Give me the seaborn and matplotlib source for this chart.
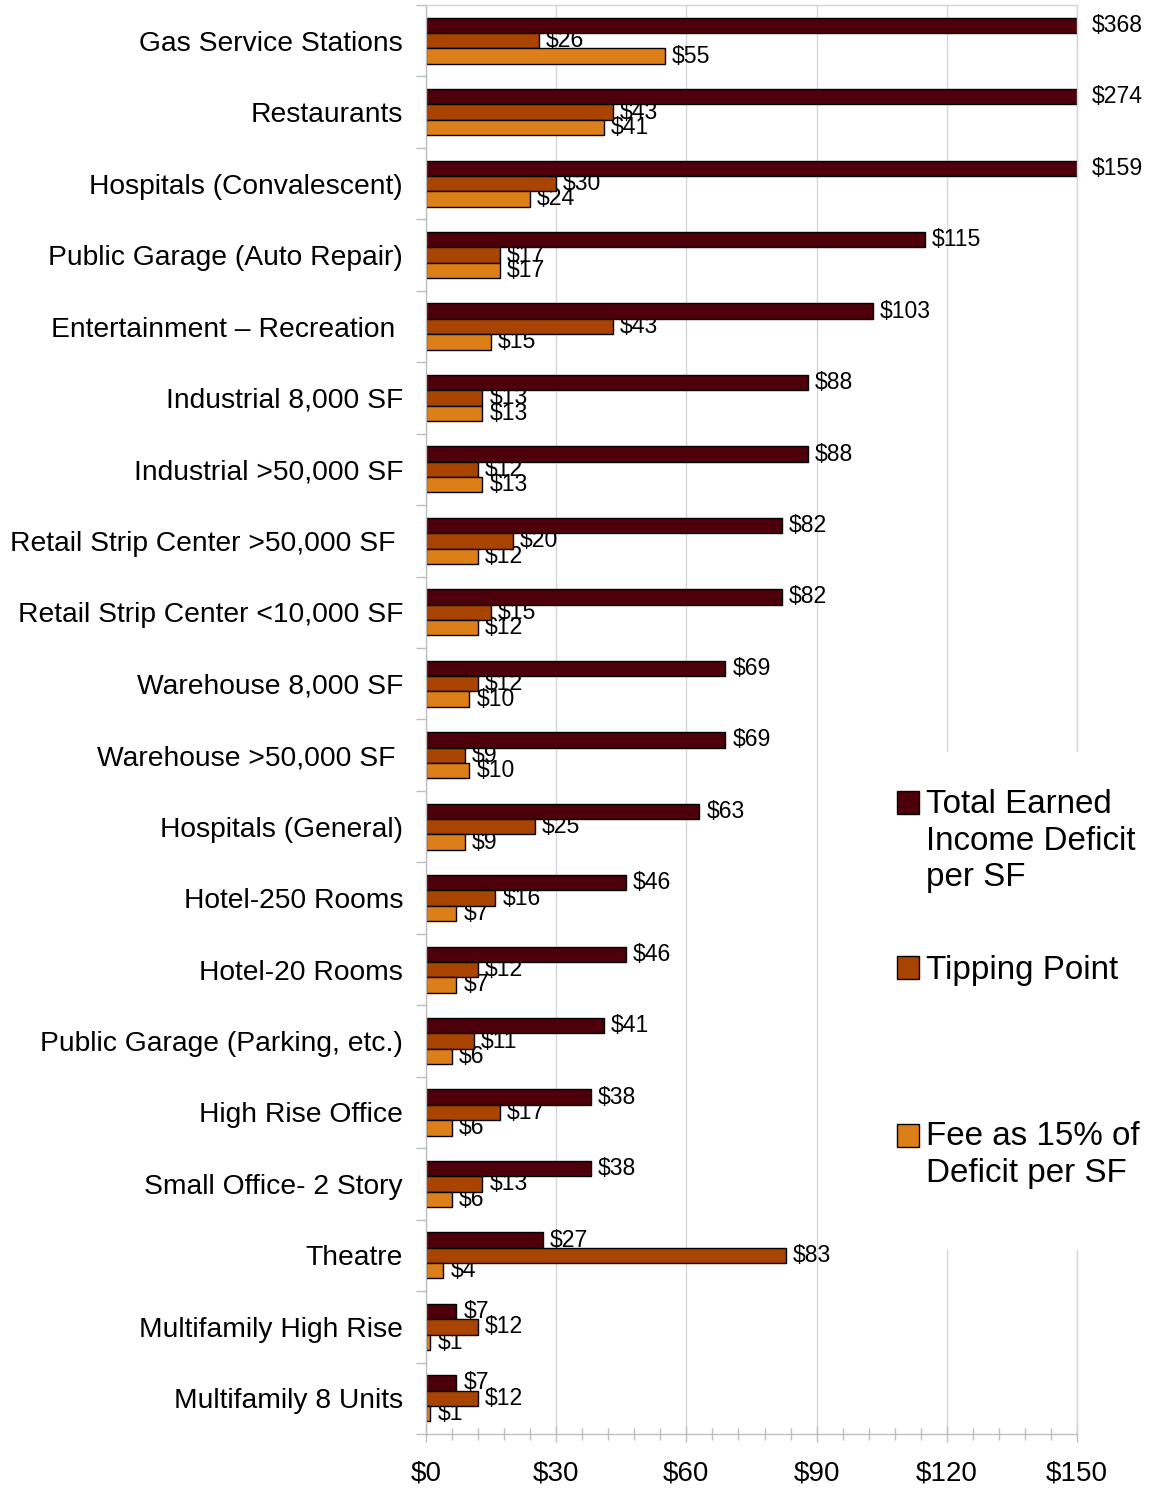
import numpy as np
import pandas as pd
import matplotlib
matplotlib.use("Agg")
import matplotlib.pyplot as plt
from matplotlib.patches import Rectangle, Patch
from matplotlib.legend_handler import HandlerPatch
from matplotlib.ticker import FuncFormatter, MultipleLocator
import seaborn as sns

# ---- data -------------------------------------------------------------
categories = [
    "Gas Service Stations",
    "Restaurants",
    "Hospitals (Convalescent)",
    "Public Garage (Auto Repair)",
    "Entertainment \u2013 Recreation ",
    "Industrial 8,000 SF",
    "Industrial >50,000 SF",
    "Retail Strip Center >50,000 SF ",
    "Retail Strip Center <10,000 SF",
    "Warehouse 8,000 SF",
    "Warehouse >50,000 SF ",
    "Hospitals (General)",
    "Hotel-250 Rooms",
    "Hotel-20 Rooms",
    "Public Garage (Parking, etc.)",
    "High Rise Office",
    "Small Office- 2 Story",
    "Theatre",
    "Multifamily High Rise",
    "Multifamily 8 Units",
]
total_deficit = [368, 274, 159, 115, 103, 88, 88, 82, 82, 69, 69, 63, 46, 46, 41, 38, 38, 27, 7, 7]
tipping_point = [26, 43, 30, 17, 43, 13, 12, 20, 15, 12, 9, 25, 16, 12, 11, 17, 13, 83, 12, 12]
fee_15pct = [55, 41, 24, 17, 15, 13, 13, 12, 12, 10, 10, 9, 7, 7, 6, 6, 6, 4, 1, 1]

series_names = [
    "Total Earned\nIncome Deficit\nper SF",
    "Tipping Point",
    "Fee as 15% of\nDeficit per SF",
]
series_colors = ["#4D000A", "#A84300", "#DC7F18"]
x_ticks = [0, 30, 60, 90, 120, 150]
x_max = 150

df = pd.DataFrame({
    "category": categories * 3,
    "value": total_deficit + tipping_point + fee_15pct,
    "series": np.repeat(series_names, len(categories)),
})

# ---- style ------------------------------------------------------------
sns.set_theme(style="white")
plt.rcParams["font.family"] = ["Liberation Sans", "DejaVu Sans"]
plt.rcParams["text.color"] = "black"

W, H = 1149, 1489
fig = plt.figure(figsize=(W / 100, H / 100), dpi=100)
ax = fig.add_axes([426 / W, 1 - 1434 / H, (1077 - 426) / W, (1434 - 5) / H])

sns.barplot(
    data=df, y="category", x="value", hue="series", orient="h",
    palette=series_colors, width=0.645, edgecolor="black", linewidth=1.0,
    saturation=1, legend=False, ax=ax, zorder=2,
)

ax.set_xlim(0, x_max)
ax.set_ylim(len(categories) - 0.5, -0.5)
ax.set_xlabel("")
ax.set_ylabel("")

# gridlines / spines
grid_col = "#D4D4D4"
spine_col = "#BEBEBE"
ax.set_axisbelow(True)
ax.xaxis.grid(True, which="major", color=grid_col, linewidth=0.9)
ax.yaxis.grid(False)
for side, sp in ax.spines.items():
    sp.set_visible(True)
    sp.set_color(spine_col if side in ("left", "bottom") else grid_col)
    sp.set_linewidth(1.0)

# x ticks
ax.set_xticks(x_ticks)
ax.xaxis.set_minor_locator(MultipleLocator(6))
ax.xaxis.set_major_formatter(FuncFormatter(lambda v, p: f"${v:.0f}"))
ax.tick_params(axis="x", which="major", direction="inout", length=12, width=1.0,
               color=spine_col, labelsize=20, pad=13, bottom=True)
ax.tick_params(axis="x", which="minor", direction="inout", length=8, width=1.0,
               color=spine_col, bottom=True)

# y ticks: labels at categories, marks between categories
ax.set_yticks(np.arange(len(categories)))
ax.set_yticklabels(categories)
ax.set_yticks(np.arange(-0.5, len(categories), 1.0), minor=True)
ax.tick_params(axis="y", which="major", length=0, labelsize=20.3, pad=16.5, left=True)
ax.tick_params(axis="y", which="minor", direction="out", length=7.5, width=1.0,
               color=spine_col, left=True)
for t in ax.get_xticklabels() + ax.get_yticklabels():
    t.set_color("black")

# value labels at bar ends (bars beyond the axis stop at its edge)
for container, vals in zip(ax.containers, [total_deficit, tipping_point, fee_15pct]):
    for patch, v in zip(container.patches, vals):
        yc = patch.get_y() + patch.get_height() / 2
        clipped = v > x_max
        ax.annotate(
            f"${v}", xy=(min(v, x_max), yc),
            xytext=(10.8 if clipped else 5, 0), textcoords="offset points",
            ha="left", va="center", fontsize=16.6, color="black",
            annotation_clip=False, zorder=1.5,
        )

# legend area
fig.add_artist(Rectangle((885 / W, 1 - 1250 / H), (W - 885) / W, (1250 - 752) / H,
                         transform=fig.transFigure, facecolor="white",
                         edgecolor="none", zorder=1))


def square_handle(shift_pt):
    def make(legend, orig_handle, xdescent, ydescent, width, height, fontsize):
        return Rectangle((-xdescent, -ydescent + shift_pt), width, height)
    return make


leg_fs = 23.9
legend_layout = [
    (series_names[0], series_colors[0], 1 - 841 / H, 28.1),
    (series_names[1], series_colors[1], 1 - 970 / H, -0.5),
    (series_names[2], series_colors[2], 1 - 1155 / H, 14.4),
]
for name, col, yc, shift in legend_layout:
    handle = Patch(facecolor=col, edgecolor="black", linewidth=1.0)
    leg = fig.legend(
        [handle], [name], loc="center left", bbox_to_anchor=(897 / W, yc),
        bbox_transform=fig.transFigure, frameon=False, fontsize=leg_fs,
        handlelength=0.66, handleheight=0.66, handletextpad=0.2,
        borderpad=0, borderaxespad=0,
        handler_map={Patch: HandlerPatch(patch_func=square_handle(shift))},
    )
    leg.set_zorder(2)
    for t in leg.get_texts():
        t.set_linespacing(1.22)
        t.set_color("black")

fig.savefig("out.png", dpi=100)
